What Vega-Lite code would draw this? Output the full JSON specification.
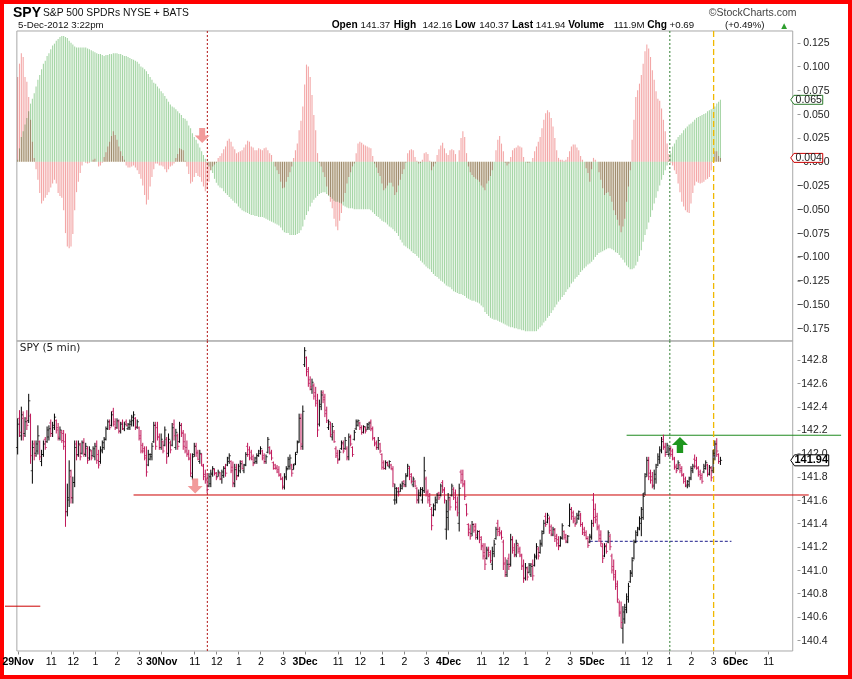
{
"$schema":"https://vega.github.io/schema/vega-lite/v6.json",
"width":852,"height":679,"padding":0,"autosize":{"type":"none"},"background":"white",
"config":{"view":{"stroke":"#ff0000","strokeWidth":8},"font":"Liberation Sans","axis":{"labelFont":"Liberation Sans","titleFont":"Liberation Sans","grid":false,"domain":false}},
"datasets":{"bars":[
{"i":0,"o":142.05,"h":142.3,"l":141.99,"c":142.25,"g":0.002,"p":0.089},
{"i":1,"o":142.3,"h":142.37,"l":142.14,"c":142.18,"g":0.014,"p":0.103},
{"i":2,"o":142.15,"h":142.4,"l":142.11,"c":142.33,"g":0.026,"p":0.114},
{"i":3,"o":142.3,"h":142.36,"l":142.11,"c":142.15,"g":0.032,"p":0.11},
{"i":4,"o":142.17,"h":142.31,"l":142.14,"c":142.27,"g":0.039,"p":0.089},
{"i":5,"o":142.3,"h":142.37,"l":142.2,"c":142.24,"g":0.046,"p":0.084},
{"i":6,"o":142.28,"h":142.51,"l":142.26,"c":142.45,"g":0.053,"p":0.068},
{"i":7,"o":142.32,"h":142.34,"l":141.91,"c":141.98,"g":0.061,"p":0.044},
{"i":8,"o":141.85,"h":142.11,"l":141.74,"c":142.05,"g":0.066,"p":0.021},
{"i":9,"o":142.08,"h":142.11,"l":141.94,"c":141.98,"g":0.072,"p":0.004},
{"i":10,"o":142.0,"h":142.11,"l":141.97,"c":142.08,"g":0.079,"p":-0.008},
{"i":11,"o":142.02,"h":142.24,"l":141.99,"c":142.15,"g":0.086,"p":-0.019},
{"i":12,"o":142.1,"h":142.11,"l":141.94,"c":141.97,"g":0.091,"p":-0.033},
{"i":13,"o":141.93,"h":142.03,"l":141.89,"c":141.99,"g":0.097,"p":-0.044},
{"i":14,"o":141.99,"h":142.11,"l":141.97,"c":142.08,"g":0.103,"p":-0.041},
{"i":15,"o":142.12,"h":142.14,"l":142.03,"c":142.05,"g":0.106,"p":-0.038},
{"i":16,"o":142.1,"h":142.23,"l":142.09,"c":142.2,"g":0.111,"p":-0.035},
{"i":17,"o":142.14,"h":142.24,"l":142.11,"c":142.21,"g":0.114,"p":-0.032},
{"i":18,"o":142.26,"h":142.29,"l":142.14,"c":142.17,"g":0.118,"p":-0.027},
{"i":19,"o":142.17,"h":142.27,"l":142.14,"c":142.24,"g":0.122,"p":-0.023},
{"i":20,"o":142.22,"h":142.34,"l":142.2,"c":142.31,"g":0.124,"p":-0.019},
{"i":21,"o":142.28,"h":142.29,"l":142.17,"c":142.2,"g":0.127,"p":-0.023},
{"i":22,"o":142.22,"h":142.26,"l":142.11,"c":142.14,"g":0.129,"p":-0.033},
{"i":23,"o":142.13,"h":142.23,"l":142.11,"c":142.2,"g":0.131,"p":-0.036},
{"i":24,"o":142.18,"h":142.2,"l":142.09,"c":142.11,"g":0.132,"p":-0.038},
{"i":25,"o":142.17,"h":142.2,"l":142.03,"c":142.06,"g":0.132,"p":-0.051},
{"i":26,"o":142.1,"h":142.17,"l":141.37,"c":141.5,"g":0.131,"p":-0.075},
{"i":27,"o":141.5,"h":141.74,"l":141.46,"c":141.62,"g":0.13,"p":-0.089},
{"i":28,"o":141.6,"h":141.94,"l":141.54,"c":141.85,"g":0.127,"p":-0.091},
{"i":29,"o":141.8,"h":141.86,"l":141.57,"c":141.62,"g":0.125,"p":-0.089},
{"i":30,"o":141.62,"h":141.8,"l":141.57,"c":141.75,"g":0.123,"p":-0.076},
{"i":31,"o":141.75,"h":142.11,"l":141.71,"c":142.05,"g":0.121,"p":-0.051},
{"i":32,"o":142.08,"h":142.11,"l":141.94,"c":141.98,"g":0.12,"p":-0.032},
{"i":33,"o":141.99,"h":142.11,"l":141.97,"c":142.08,"g":0.12,"p":-0.021},
{"i":34,"o":142.07,"h":142.09,"l":141.94,"c":141.97,"g":0.12,"p":-0.012},
{"i":35,"o":142.0,"h":142.11,"l":141.99,"c":142.09,"g":0.12,"p":-0.004},
{"i":36,"o":142.1,"h":142.13,"l":141.97,"c":142.0,"g":0.12,"p":0.0},
{"i":37,"o":141.99,"h":142.09,"l":141.97,"c":142.06,"g":0.12,"p":-0.001},
{"i":38,"o":142.04,"h":142.06,"l":141.91,"c":141.94,"g":0.119,"p":-0.002},
{"i":39,"o":141.96,"h":142.06,"l":141.94,"c":142.03,"g":0.118,"p":-0.001},
{"i":40,"o":142.02,"h":142.03,"l":141.94,"c":141.96,"g":0.117,"p":0.0},
{"i":41,"o":141.98,"h":142.06,"l":141.97,"c":142.04,"g":0.116,"p":0.002},
{"i":42,"o":141.97,"h":142.09,"l":141.94,"c":142.06,"g":0.115,"p":0.003},
{"i":43,"o":142.08,"h":142.11,"l":141.91,"c":141.94,"g":0.114,"p":0.0},
{"i":44,"o":141.99,"h":142.03,"l":141.87,"c":141.9,"g":0.113,"p":-0.005},
{"i":45,"o":141.93,"h":142.06,"l":141.91,"c":142.03,"g":0.113,"p":-0.004},
{"i":46,"o":142.02,"h":142.11,"l":142.0,"c":142.09,"g":0.112,"p":-0.001},
{"i":47,"o":142.05,"h":142.14,"l":142.03,"c":142.12,"g":0.111,"p":0.005},
{"i":48,"o":142.12,"h":142.23,"l":142.11,"c":142.21,"g":0.112,"p":0.01},
{"i":49,"o":142.21,"h":142.29,"l":142.2,"c":142.27,"g":0.112,"p":0.016},
{"i":50,"o":142.27,"h":142.29,"l":142.2,"c":142.22,"g":0.113,"p":0.021},
{"i":51,"o":142.24,"h":142.36,"l":142.23,"c":142.33,"g":0.113,"p":0.027},
{"i":52,"o":142.36,"h":142.39,"l":142.23,"c":142.25,"g":0.114,"p":0.032},
{"i":53,"o":142.27,"h":142.3,"l":142.2,"c":142.22,"g":0.114,"p":0.028},
{"i":54,"o":142.22,"h":142.3,"l":142.21,"c":142.28,"g":0.114,"p":0.023},
{"i":55,"o":142.27,"h":142.29,"l":142.17,"c":142.19,"g":0.113,"p":0.016},
{"i":56,"o":142.19,"h":142.27,"l":142.17,"c":142.25,"g":0.113,"p":0.011},
{"i":57,"o":142.26,"h":142.29,"l":142.2,"c":142.21,"g":0.112,"p":0.006},
{"i":58,"o":142.21,"h":142.27,"l":142.19,"c":142.25,"g":0.111,"p":0.002},
{"i":59,"o":142.27,"h":142.29,"l":142.23,"c":142.24,"g":0.111,"p":-0.004},
{"i":60,"o":142.21,"h":142.26,"l":142.2,"c":142.25,"g":0.11,"p":-0.006},
{"i":61,"o":142.22,"h":142.29,"l":142.2,"c":142.27,"g":0.109,"p":-0.006},
{"i":62,"o":142.25,"h":142.33,"l":142.23,"c":142.31,"g":0.108,"p":-0.005},
{"i":63,"o":142.28,"h":142.36,"l":142.23,"c":142.33,"g":0.107,"p":-0.004},
{"i":64,"o":142.3,"h":142.31,"l":142.2,"c":142.23,"g":0.106,"p":-0.006},
{"i":65,"o":142.22,"h":142.29,"l":142.21,"c":142.27,"g":0.105,"p":-0.009},
{"i":66,"o":142.22,"h":142.23,"l":142.11,"c":142.13,"g":0.103,"p":-0.013},
{"i":67,"o":142.15,"h":142.2,"l":142.0,"c":142.02,"g":0.1,"p":-0.018},
{"i":68,"o":142.07,"h":142.09,"l":142.0,"c":142.02,"g":0.099,"p":-0.025},
{"i":69,"o":142.04,"h":142.06,"l":141.94,"c":141.96,"g":0.097,"p":-0.035},
{"i":70,"o":141.98,"h":142.06,"l":141.8,"c":141.84,"g":0.095,"p":-0.045},
{"i":71,"o":141.9,"h":142.03,"l":141.89,"c":141.99,"g":0.092,"p":-0.04},
{"i":72,"o":141.95,"h":142.0,"l":141.94,"c":141.99,"g":0.089,"p":-0.026},
{"i":73,"o":141.97,"h":142.09,"l":141.94,"c":142.06,"g":0.086,"p":-0.016},
{"i":74,"o":142.1,"h":142.27,"l":142.09,"c":142.24,"g":0.083,"p":-0.008},
{"i":75,"o":142.24,"h":142.27,"l":142.03,"c":142.06,"g":0.082,"p":-0.002},
{"i":76,"o":142.22,"h":142.27,"l":142.11,"c":142.14,"g":0.079,"p":-0.002},
{"i":77,"o":142.14,"h":142.17,"l":142.03,"c":142.05,"g":0.077,"p":-0.004},
{"i":78,"o":142.05,"h":142.17,"l":142.03,"c":142.12,"g":0.074,"p":-0.004},
{"i":79,"o":142.1,"h":142.11,"l":142.0,"c":142.02,"g":0.072,"p":-0.005},
{"i":80,"o":142.07,"h":142.23,"l":142.06,"c":142.2,"g":0.069,"p":-0.008},
{"i":81,"o":142.12,"h":142.14,"l":141.91,"c":141.97,"g":0.066,"p":-0.011},
{"i":82,"o":142.0,"h":142.17,"l":141.97,"c":142.12,"g":0.063,"p":-0.008},
{"i":83,"o":142.09,"h":142.11,"l":142.0,"c":142.03,"g":0.06,"p":-0.005},
{"i":84,"o":142.07,"h":142.26,"l":142.06,"c":142.22,"g":0.058,"p":-0.004},
{"i":85,"o":142.25,"h":142.29,"l":142.11,"c":142.15,"g":0.057,"p":-0.002},
{"i":86,"o":142.05,"h":142.21,"l":142.03,"c":142.18,"g":0.055,"p":0.004},
{"i":87,"o":142.15,"h":142.17,"l":142.03,"c":142.06,"g":0.053,"p":0.008},
{"i":88,"o":142.1,"h":142.27,"l":142.09,"c":142.24,"g":0.051,"p":0.014},
{"i":89,"o":142.24,"h":142.26,"l":142.14,"c":142.17,"g":0.049,"p":0.013},
{"i":90,"o":142.18,"h":142.2,"l":142.03,"c":142.06,"g":0.046,"p":0.012},
{"i":91,"o":142.1,"h":142.17,"l":142.0,"c":142.02,"g":0.045,"p":0.001},
{"i":92,"o":142.05,"h":142.11,"l":141.97,"c":141.99,"g":0.043,"p":-0.005},
{"i":93,"o":142.0,"h":142.03,"l":141.94,"c":141.95,"g":0.038,"p":-0.013},
{"i":94,"o":141.96,"h":142.0,"l":141.8,"c":141.83,"g":0.035,"p":-0.023},
{"i":95,"o":141.8,"h":142.0,"l":141.77,"c":141.97,"g":0.03,"p":-0.021},
{"i":96,"o":141.99,"h":142.09,"l":141.97,"c":142.06,"g":0.026,"p":-0.016},
{"i":97,"o":142.06,"h":142.09,"l":141.97,"c":142.0,"g":0.023,"p":-0.012},
{"i":98,"o":142.01,"h":142.03,"l":141.94,"c":141.95,"g":0.019,"p":-0.015},
{"i":99,"o":141.93,"h":142.03,"l":141.91,"c":142.0,"g":0.015,"p":-0.016},
{"i":100,"o":141.99,"h":142.0,"l":141.89,"c":141.9,"g":0.011,"p":-0.021},
{"i":101,"o":141.89,"h":141.91,"l":141.77,"c":141.8,"g":0.007,"p":-0.026},
{"i":102,"o":141.82,"h":141.86,"l":141.74,"c":141.77,"g":0.003,"p":-0.031},
{"i":103,"o":141.78,"h":141.83,"l":141.66,"c":141.69,"g":-0.001,"p":-0.029},
{"i":104,"o":141.72,"h":141.83,"l":141.71,"c":141.8,"g":-0.005,"p":-0.021},
{"i":105,"o":141.74,"h":141.86,"l":141.71,"c":141.83,"g":-0.009,"p":-0.009},
{"i":106,"o":141.82,"h":141.89,"l":141.8,"c":141.87,"g":-0.012,"p":-0.005},
{"i":107,"o":141.86,"h":141.87,"l":141.81,"c":141.83,"g":-0.018,"p":-0.003},
{"i":108,"o":141.83,"h":141.84,"l":141.77,"c":141.79,"g":-0.022,"p":-0.001},
{"i":109,"o":141.8,"h":141.86,"l":141.8,"c":141.84,"g":-0.025,"p":0.004},
{"i":110,"o":141.83,"h":141.84,"l":141.77,"c":141.78,"g":-0.027,"p":0.006},
{"i":111,"o":141.78,"h":141.86,"l":141.74,"c":141.84,"g":-0.028,"p":0.009},
{"i":112,"o":141.81,"h":141.89,"l":141.79,"c":141.87,"g":-0.031,"p":0.013},
{"i":113,"o":141.88,"h":141.91,"l":141.8,"c":141.83,"g":-0.033,"p":0.016},
{"i":114,"o":141.9,"h":141.97,"l":141.89,"c":141.96,"g":-0.035,"p":0.022},
{"i":115,"o":141.93,"h":142.0,"l":141.91,"c":141.98,"g":-0.037,"p":0.024},
{"i":116,"o":141.93,"h":141.94,"l":141.83,"c":141.85,"g":-0.039,"p":0.021},
{"i":117,"o":141.88,"h":141.93,"l":141.71,"c":141.75,"g":-0.041,"p":0.016},
{"i":118,"o":141.74,"h":141.91,"l":141.71,"c":141.86,"g":-0.043,"p":0.013},
{"i":119,"o":141.88,"h":141.91,"l":141.77,"c":141.8,"g":-0.044,"p":0.009},
{"i":120,"o":141.81,"h":141.91,"l":141.8,"c":141.89,"g":-0.047,"p":0.01},
{"i":121,"o":141.85,"h":141.94,"l":141.83,"c":141.91,"g":-0.049,"p":0.011},
{"i":122,"o":141.93,"h":141.94,"l":141.86,"c":141.87,"g":-0.051,"p":0.012},
{"i":123,"o":141.85,"h":141.91,"l":141.83,"c":141.9,"g":-0.052,"p":0.015},
{"i":124,"o":141.9,"h":142.01,"l":141.89,"c":141.99,"g":-0.053,"p":0.018},
{"i":125,"o":142.06,"h":142.09,"l":141.97,"c":141.99,"g":-0.054,"p":0.022},
{"i":126,"o":142.03,"h":142.06,"l":141.94,"c":141.96,"g":-0.055,"p":0.021},
{"i":127,"o":142.01,"h":142.03,"l":141.94,"c":141.95,"g":-0.056,"p":0.016},
{"i":128,"o":141.97,"h":141.99,"l":141.89,"c":141.91,"g":-0.056,"p":0.015},
{"i":129,"o":141.92,"h":141.97,"l":141.91,"c":141.96,"g":-0.057,"p":0.012},
{"i":130,"o":141.93,"h":142.0,"l":141.91,"c":141.98,"g":-0.057,"p":0.012},
{"i":131,"o":141.98,"h":142.03,"l":141.97,"c":142.02,"g":-0.058,"p":0.014},
{"i":132,"o":142.0,"h":142.06,"l":141.99,"c":142.04,"g":-0.058,"p":0.013},
{"i":133,"o":142.02,"h":142.03,"l":141.94,"c":141.96,"g":-0.058,"p":0.012},
{"i":134,"o":141.98,"h":142.0,"l":141.91,"c":141.93,"g":-0.059,"p":0.014},
{"i":135,"o":141.93,"h":141.99,"l":141.91,"c":141.97,"g":-0.06,"p":0.015},
{"i":136,"o":142.01,"h":142.14,"l":142.0,"c":142.12,"g":-0.061,"p":0.012},
{"i":137,"o":142.05,"h":142.06,"l":141.99,"c":142.0,"g":-0.062,"p":0.009},
{"i":138,"o":142.01,"h":142.03,"l":141.94,"c":141.96,"g":-0.063,"p":0.007},
{"i":139,"o":141.92,"h":141.93,"l":141.86,"c":141.87,"g":-0.064,"p":0.0},
{"i":140,"o":141.9,"h":141.91,"l":141.86,"c":141.87,"g":-0.065,"p":-0.005},
{"i":141,"o":141.88,"h":141.9,"l":141.83,"c":141.84,"g":-0.066,"p":-0.009},
{"i":142,"o":141.86,"h":141.89,"l":141.8,"c":141.81,"g":-0.067,"p":-0.013},
{"i":143,"o":141.82,"h":141.83,"l":141.77,"c":141.78,"g":-0.069,"p":-0.021},
{"i":144,"o":141.78,"h":141.8,"l":141.69,"c":141.72,"g":-0.072,"p":-0.028},
{"i":145,"o":141.71,"h":141.83,"l":141.69,"c":141.8,"g":-0.074,"p":-0.027},
{"i":146,"o":141.79,"h":141.89,"l":141.77,"c":141.86,"g":-0.075,"p":-0.021},
{"i":147,"o":141.87,"h":141.97,"l":141.86,"c":141.95,"g":-0.075,"p":-0.016},
{"i":148,"o":141.89,"h":141.99,"l":141.86,"c":141.96,"g":-0.077,"p":-0.011},
{"i":149,"o":141.9,"h":141.91,"l":141.8,"c":141.83,"g":-0.077,"p":-0.005},
{"i":150,"o":141.86,"h":141.91,"l":141.86,"c":141.9,"g":-0.077,"p":0.004},
{"i":151,"o":141.91,"h":142.01,"l":141.9,"c":141.99,"g":-0.077,"p":0.012},
{"i":152,"o":142.01,"h":142.11,"l":142.0,"c":142.09,"g":-0.076,"p":0.019},
{"i":153,"o":142.1,"h":142.34,"l":142.09,"c":142.3,"g":-0.075,"p":0.033},
{"i":154,"o":142.3,"h":142.34,"l":142.03,"c":142.08,"g":-0.072,"p":0.043},
{"i":155,"o":142.06,"h":142.41,"l":142.03,"c":142.36,"g":-0.068,"p":0.058},
{"i":156,"o":142.76,"h":142.91,"l":142.74,"c":142.88,"g":-0.061,"p":0.081},
{"i":157,"o":142.82,"h":142.83,"l":142.66,"c":142.7,"g":-0.056,"p":0.102},
{"i":158,"o":142.72,"h":142.74,"l":142.57,"c":142.6,"g":-0.052,"p":0.1},
{"i":159,"o":142.63,"h":142.66,"l":142.54,"c":142.57,"g":-0.047,"p":0.089},
{"i":160,"o":142.55,"h":142.64,"l":142.51,"c":142.61,"g":-0.043,"p":0.07},
{"i":161,"o":142.58,"h":142.6,"l":142.46,"c":142.49,"g":-0.04,"p":0.049},
{"i":162,"o":142.52,"h":142.57,"l":142.4,"c":142.43,"g":-0.038,"p":0.033},
{"i":163,"o":142.45,"h":142.51,"l":142.14,"c":142.2,"g":-0.036,"p":0.009},
{"i":164,"o":142.25,"h":142.46,"l":142.23,"c":142.42,"g":-0.034,"p":-0.001},
{"i":165,"o":142.4,"h":142.54,"l":142.37,"c":142.5,"g":-0.033,"p":-0.005},
{"i":166,"o":142.52,"h":142.54,"l":142.43,"c":142.46,"g":-0.032,"p":-0.011},
{"i":167,"o":142.48,"h":142.51,"l":142.31,"c":142.34,"g":-0.032,"p":-0.016},
{"i":168,"o":142.37,"h":142.4,"l":142.26,"c":142.28,"g":-0.034,"p":-0.026},
{"i":169,"o":142.22,"h":142.29,"l":142.2,"c":142.27,"g":-0.036,"p":-0.035},
{"i":170,"o":142.25,"h":142.27,"l":142.14,"c":142.16,"g":-0.037,"p":-0.042},
{"i":171,"o":142.14,"h":142.26,"l":142.11,"c":142.23,"g":-0.039,"p":-0.049},
{"i":172,"o":142.18,"h":142.2,"l":142.09,"c":142.1,"g":-0.041,"p":-0.06},
{"i":173,"o":142.04,"h":142.06,"l":141.96,"c":141.98,"g":-0.042,"p":-0.068},
{"i":174,"o":142.0,"h":142.03,"l":141.91,"c":141.94,"g":-0.042,"p":-0.072},
{"i":175,"o":141.95,"h":142.03,"l":141.94,"c":142.01,"g":-0.043,"p":-0.062},
{"i":176,"o":142.04,"h":142.11,"l":142.03,"c":142.09,"g":-0.044,"p":-0.054},
{"i":177,"o":142.08,"h":142.11,"l":142.0,"c":142.02,"g":-0.046,"p":-0.042},
{"i":178,"o":142.04,"h":142.14,"l":142.03,"c":142.11,"g":-0.047,"p":-0.033},
{"i":179,"o":142.04,"h":142.06,"l":141.94,"c":141.96,"g":-0.048,"p":-0.023},
{"i":180,"o":141.97,"h":142.17,"l":141.94,"c":142.14,"g":-0.049,"p":-0.016},
{"i":181,"o":142.14,"h":142.16,"l":142.06,"c":142.08,"g":-0.049,"p":-0.011},
{"i":182,"o":142.05,"h":142.06,"l":141.97,"c":141.99,"g":-0.049,"p":-0.005},
{"i":183,"o":142.12,"h":142.2,"l":142.11,"c":142.18,"g":-0.05,"p":-0.002},
{"i":184,"o":142.21,"h":142.29,"l":142.2,"c":142.27,"g":-0.05,"p":0.009},
{"i":185,"o":142.24,"h":142.29,"l":142.23,"c":142.28,"g":-0.05,"p":0.019},
{"i":186,"o":142.26,"h":142.27,"l":142.2,"c":142.22,"g":-0.05,"p":0.021},
{"i":187,"o":142.22,"h":142.24,"l":142.16,"c":142.18,"g":-0.05,"p":0.02},
{"i":188,"o":142.18,"h":142.24,"l":142.17,"c":142.23,"g":-0.05,"p":0.018},
{"i":189,"o":142.22,"h":142.23,"l":142.17,"c":142.19,"g":-0.05,"p":0.017},
{"i":190,"o":142.2,"h":142.26,"l":142.2,"c":142.25,"g":-0.05,"p":0.016},
{"i":191,"o":142.22,"h":142.27,"l":142.2,"c":142.26,"g":-0.05,"p":0.015},
{"i":192,"o":142.27,"h":142.29,"l":142.19,"c":142.21,"g":-0.051,"p":0.014},
{"i":193,"o":142.21,"h":142.23,"l":142.11,"c":142.13,"g":-0.053,"p":0.006},
{"i":194,"o":142.13,"h":142.14,"l":142.06,"c":142.08,"g":-0.055,"p":-0.002},
{"i":195,"o":142.09,"h":142.11,"l":142.03,"c":142.05,"g":-0.057,"p":-0.006},
{"i":196,"o":142.05,"h":142.14,"l":142.03,"c":142.11,"g":-0.058,"p":-0.012},
{"i":197,"o":142.08,"h":142.09,"l":142.0,"c":142.02,"g":-0.06,"p":-0.015},
{"i":198,"o":141.99,"h":142.0,"l":141.86,"c":141.88,"g":-0.062,"p":-0.023},
{"i":199,"o":141.92,"h":141.94,"l":141.86,"c":141.87,"g":-0.063,"p":-0.03},
{"i":200,"o":141.87,"h":141.94,"l":141.86,"c":141.92,"g":-0.064,"p":-0.028},
{"i":201,"o":141.92,"h":141.93,"l":141.89,"c":141.9,"g":-0.066,"p":-0.025},
{"i":202,"o":141.89,"h":141.94,"l":141.87,"c":141.93,"g":-0.068,"p":-0.022},
{"i":203,"o":141.9,"h":141.91,"l":141.86,"c":141.87,"g":-0.069,"p":-0.022},
{"i":204,"o":141.86,"h":141.89,"l":141.71,"c":141.74,"g":-0.071,"p":-0.026},
{"i":205,"o":141.6,"h":141.74,"l":141.56,"c":141.7,"g":-0.073,"p":-0.035},
{"i":206,"o":141.6,"h":141.71,"l":141.57,"c":141.67,"g":-0.075,"p":-0.032},
{"i":207,"o":141.7,"h":141.71,"l":141.63,"c":141.65,"g":-0.078,"p":-0.025},
{"i":208,"o":141.67,"h":141.74,"l":141.67,"c":141.72,"g":-0.082,"p":-0.019},
{"i":209,"o":141.7,"h":141.76,"l":141.69,"c":141.74,"g":-0.085,"p":-0.013},
{"i":210,"o":141.76,"h":141.77,"l":141.71,"c":141.72,"g":-0.088,"p":-0.008},
{"i":211,"o":141.73,"h":141.83,"l":141.71,"c":141.8,"g":-0.089,"p":-0.001},
{"i":212,"o":141.81,"h":141.91,"l":141.8,"c":141.89,"g":-0.091,"p":0.009},
{"i":213,"o":141.87,"h":141.89,"l":141.77,"c":141.8,"g":-0.092,"p":0.012},
{"i":214,"o":141.82,"h":141.83,"l":141.74,"c":141.76,"g":-0.094,"p":0.013},
{"i":215,"o":141.73,"h":141.8,"l":141.71,"c":141.78,"g":-0.096,"p":0.012},
{"i":216,"o":141.76,"h":141.77,"l":141.71,"c":141.72,"g":-0.097,"p":0.005},
{"i":217,"o":141.7,"h":141.71,"l":141.57,"c":141.6,"g":-0.099,"p":0.001},
{"i":218,"o":141.6,"h":141.69,"l":141.57,"c":141.66,"g":-0.101,"p":-0.002},
{"i":219,"o":141.64,"h":141.71,"l":141.63,"c":141.69,"g":-0.104,"p":-0.001},
{"i":220,"o":141.6,"h":141.71,"l":141.57,"c":141.68,"g":-0.106,"p":0.002},
{"i":221,"o":141.68,"h":141.97,"l":141.66,"c":141.85,"g":-0.108,"p":0.009},
{"i":222,"o":141.78,"h":141.8,"l":141.63,"c":141.66,"g":-0.11,"p":0.01},
{"i":223,"o":141.67,"h":141.69,"l":141.57,"c":141.6,"g":-0.112,"p":0.008},
{"i":224,"o":141.63,"h":141.66,"l":141.54,"c":141.56,"g":-0.113,"p":0.001},
{"i":225,"o":141.52,"h":141.54,"l":141.34,"c":141.38,"g":-0.116,"p":-0.009},
{"i":226,"o":141.47,"h":141.57,"l":141.46,"c":141.55,"g":-0.118,"p":-0.005},
{"i":227,"o":141.52,"h":141.63,"l":141.51,"c":141.6,"g":-0.12,"p":-0.002},
{"i":228,"o":141.58,"h":141.66,"l":141.57,"c":141.64,"g":-0.121,"p":0.007},
{"i":229,"o":141.66,"h":141.67,"l":141.6,"c":141.62,"g":-0.123,"p":0.013},
{"i":230,"o":141.64,"h":141.74,"l":141.63,"c":141.72,"g":-0.125,"p":0.017},
{"i":231,"o":141.75,"h":141.77,"l":141.66,"c":141.68,"g":-0.126,"p":0.02},
{"i":232,"o":141.69,"h":141.71,"l":141.57,"c":141.6,"g":-0.128,"p":0.014},
{"i":233,"o":141.35,"h":141.6,"l":141.26,"c":141.5,"g":-0.13,"p":0.009},
{"i":234,"o":141.45,"h":141.66,"l":141.34,"c":141.62,"g":-0.131,"p":0.007},
{"i":235,"o":141.6,"h":141.63,"l":141.51,"c":141.54,"g":-0.132,"p":0.012},
{"i":236,"o":141.64,"h":141.74,"l":141.63,"c":141.72,"g":-0.134,"p":0.013},
{"i":237,"o":141.69,"h":141.71,"l":141.6,"c":141.62,"g":-0.136,"p":0.012},
{"i":238,"o":141.66,"h":141.69,"l":141.51,"c":141.54,"g":-0.137,"p":0.008},
{"i":239,"o":141.58,"h":141.63,"l":141.46,"c":141.49,"g":-0.138,"p":0.0},
{"i":240,"o":141.4,"h":141.74,"l":141.33,"c":141.7,"g":-0.139,"p":0.012},
{"i":241,"o":141.84,"h":141.86,"l":141.74,"c":141.77,"g":-0.139,"p":0.025},
{"i":242,"o":141.82,"h":141.86,"l":141.71,"c":141.73,"g":-0.14,"p":0.032},
{"i":243,"o":141.74,"h":141.77,"l":141.6,"c":141.63,"g":-0.141,"p":0.026},
{"i":244,"o":141.56,"h":141.57,"l":141.46,"c":141.48,"g":-0.143,"p":0.009},
{"i":245,"o":141.39,"h":141.4,"l":141.29,"c":141.32,"g":-0.144,"p":-0.005},
{"i":246,"o":141.35,"h":141.39,"l":141.26,"c":141.29,"g":-0.145,"p":-0.011},
{"i":247,"o":141.31,"h":141.42,"l":141.29,"c":141.39,"g":-0.146,"p":-0.014},
{"i":248,"o":141.39,"h":141.4,"l":141.32,"c":141.34,"g":-0.146,"p":-0.016},
{"i":249,"o":141.37,"h":141.4,"l":141.26,"c":141.3,"g":-0.147,"p":-0.018},
{"i":250,"o":141.28,"h":141.34,"l":141.26,"c":141.33,"g":-0.148,"p":-0.019},
{"i":251,"o":141.33,"h":141.34,"l":141.23,"c":141.26,"g":-0.149,"p":-0.021},
{"i":252,"o":141.28,"h":141.29,"l":141.17,"c":141.2,"g":-0.151,"p":-0.025},
{"i":253,"o":141.21,"h":141.23,"l":141.09,"c":141.12,"g":-0.153,"p":-0.027},
{"i":254,"o":141.15,"h":141.23,"l":141.0,"c":141.05,"g":-0.158,"p":-0.03},
{"i":255,"o":141.1,"h":141.2,"l":141.09,"c":141.17,"g":-0.16,"p":-0.023},
{"i":256,"o":141.18,"h":141.2,"l":141.11,"c":141.13,"g":-0.162,"p":-0.02},
{"i":257,"o":141.15,"h":141.17,"l":141.06,"c":141.08,"g":-0.164,"p":-0.015},
{"i":258,"o":141.05,"h":141.2,"l":141.0,"c":141.16,"g":-0.165,"p":-0.009},
{"i":259,"o":141.14,"h":141.26,"l":141.11,"c":141.22,"g":-0.166,"p":0.0},
{"i":260,"o":141.27,"h":141.37,"l":141.26,"c":141.35,"g":-0.166,"p":0.012},
{"i":261,"o":141.4,"h":141.43,"l":141.29,"c":141.33,"g":-0.167,"p":0.023},
{"i":262,"o":141.35,"h":141.37,"l":141.29,"c":141.31,"g":-0.168,"p":0.027},
{"i":263,"o":141.32,"h":141.34,"l":141.26,"c":141.28,"g":-0.169,"p":0.019},
{"i":264,"o":141.24,"h":141.26,"l":141.0,"c":141.05,"g":-0.17,"p":0.011},
{"i":265,"o":141.06,"h":141.11,"l":140.94,"c":140.98,"g":-0.171,"p":-0.001},
{"i":266,"o":140.96,"h":141.09,"l":140.94,"c":141.05,"g":-0.172,"p":-0.004},
{"i":267,"o":141.1,"h":141.14,"l":141.0,"c":141.03,"g":-0.173,"p":-0.002},
{"i":268,"o":141.05,"h":141.31,"l":141.03,"c":141.26,"g":-0.174,"p":0.005},
{"i":269,"o":141.26,"h":141.29,"l":141.14,"c":141.17,"g":-0.174,"p":0.012},
{"i":270,"o":141.19,"h":141.23,"l":141.11,"c":141.13,"g":-0.175,"p":0.014},
{"i":271,"o":141.13,"h":141.26,"l":141.11,"c":141.23,"g":-0.175,"p":0.015},
{"i":272,"o":141.21,"h":141.23,"l":141.14,"c":141.16,"g":-0.176,"p":0.017},
{"i":273,"o":141.18,"h":141.2,"l":141.11,"c":141.13,"g":-0.176,"p":0.016},
{"i":274,"o":141.12,"h":141.14,"l":141.0,"c":141.03,"g":-0.177,"p":0.015},
{"i":275,"o":141.04,"h":141.09,"l":140.89,"c":140.93,"g":-0.177,"p":0.005},
{"i":276,"o":140.93,"h":141.06,"l":140.91,"c":141.02,"g":-0.178,"p":0.0},
{"i":277,"o":141.01,"h":141.03,"l":140.91,"c":140.94,"g":-0.178,"p":-0.001},
{"i":278,"o":140.98,"h":141.06,"l":140.97,"c":141.04,"g":-0.178,"p":-0.001},
{"i":279,"o":140.96,"h":141.06,"l":140.94,"c":141.03,"g":-0.178,"p":0.0},
{"i":280,"o":141.05,"h":141.09,"l":140.91,"c":140.95,"g":-0.178,"p":0.004},
{"i":281,"o":141.04,"h":141.14,"l":141.03,"c":141.12,"g":-0.178,"p":0.011},
{"i":282,"o":141.11,"h":141.23,"l":141.09,"c":141.2,"g":-0.178,"p":0.016},
{"i":283,"o":141.18,"h":141.2,"l":141.09,"c":141.12,"g":-0.176,"p":0.021},
{"i":284,"o":141.15,"h":141.26,"l":141.14,"c":141.23,"g":-0.174,"p":0.026},
{"i":285,"o":141.22,"h":141.34,"l":141.2,"c":141.31,"g":-0.172,"p":0.035},
{"i":286,"o":141.33,"h":141.43,"l":141.31,"c":141.4,"g":-0.169,"p":0.044},
{"i":287,"o":141.46,"h":141.49,"l":141.37,"c":141.39,"g":-0.167,"p":0.051},
{"i":288,"o":141.41,"h":141.49,"l":141.4,"c":141.47,"g":-0.164,"p":0.054},
{"i":289,"o":141.44,"h":141.46,"l":141.31,"c":141.34,"g":-0.162,"p":0.052},
{"i":290,"o":141.37,"h":141.39,"l":141.29,"c":141.31,"g":-0.159,"p":0.046},
{"i":291,"o":141.3,"h":141.37,"l":141.29,"c":141.35,"g":-0.156,"p":0.037},
{"i":292,"o":141.34,"h":141.36,"l":141.24,"c":141.27,"g":-0.153,"p":0.025},
{"i":293,"o":141.29,"h":141.31,"l":141.2,"c":141.23,"g":-0.15,"p":0.012},
{"i":294,"o":141.26,"h":141.29,"l":141.17,"c":141.2,"g":-0.147,"p":0.004},
{"i":295,"o":141.21,"h":141.29,"l":141.2,"c":141.27,"g":-0.145,"p":0.002},
{"i":296,"o":141.28,"h":141.4,"l":141.26,"c":141.38,"g":-0.142,"p":0.002},
{"i":297,"o":141.33,"h":141.34,"l":141.26,"c":141.28,"g":-0.14,"p":0.001},
{"i":298,"o":141.3,"h":141.31,"l":141.23,"c":141.25,"g":-0.137,"p":0.002},
{"i":299,"o":141.24,"h":141.3,"l":141.23,"c":141.29,"g":-0.134,"p":0.005},
{"i":300,"o":141.38,"h":141.57,"l":141.37,"c":141.52,"g":-0.132,"p":0.011},
{"i":301,"o":141.52,"h":141.54,"l":141.43,"c":141.46,"g":-0.128,"p":0.016},
{"i":302,"o":141.49,"h":141.51,"l":141.4,"c":141.42,"g":-0.126,"p":0.018},
{"i":303,"o":141.44,"h":141.46,"l":141.37,"c":141.39,"g":-0.123,"p":0.018},
{"i":304,"o":141.4,"h":141.49,"l":141.4,"c":141.47,"g":-0.121,"p":0.015},
{"i":305,"o":141.44,"h":141.51,"l":141.43,"c":141.5,"g":-0.119,"p":0.012},
{"i":306,"o":141.47,"h":141.49,"l":141.37,"c":141.39,"g":-0.116,"p":0.006},
{"i":307,"o":141.39,"h":141.41,"l":141.3,"c":141.32,"g":-0.114,"p":0.002},
{"i":308,"o":141.35,"h":141.37,"l":141.29,"c":141.3,"g":-0.112,"p":0.0},
{"i":309,"o":141.32,"h":141.34,"l":141.26,"c":141.27,"g":-0.11,"p":-0.007},
{"i":310,"o":141.27,"h":141.29,"l":141.19,"c":141.21,"g":-0.108,"p":-0.012},
{"i":311,"o":141.24,"h":141.31,"l":141.23,"c":141.29,"g":-0.107,"p":-0.021},
{"i":312,"o":141.28,"h":141.43,"l":141.26,"c":141.4,"g":-0.105,"p":-0.008},
{"i":313,"o":141.6,"h":141.66,"l":141.37,"c":141.45,"g":-0.103,"p":0.004},
{"i":314,"o":141.52,"h":141.57,"l":141.4,"c":141.43,"g":-0.1,"p":0.002},
{"i":315,"o":141.46,"h":141.49,"l":141.34,"c":141.37,"g":-0.098,"p":0.0},
{"i":316,"o":141.36,"h":141.39,"l":141.24,"c":141.27,"g":-0.096,"p":-0.011},
{"i":317,"o":141.3,"h":141.34,"l":141.2,"c":141.23,"g":-0.095,"p":-0.019},
{"i":318,"o":141.2,"h":141.23,"l":141.06,"c":141.1,"g":-0.094,"p":-0.028},
{"i":319,"o":141.12,"h":141.23,"l":141.11,"c":141.2,"g":-0.093,"p":-0.035},
{"i":320,"o":141.21,"h":141.23,"l":141.14,"c":141.16,"g":-0.092,"p":-0.033},
{"i":321,"o":141.24,"h":141.34,"l":141.23,"c":141.32,"g":-0.091,"p":-0.032},
{"i":322,"o":141.29,"h":141.31,"l":141.17,"c":141.2,"g":-0.091,"p":-0.036},
{"i":323,"o":141.12,"h":141.14,"l":140.97,"c":141.0,"g":-0.092,"p":-0.042},
{"i":324,"o":141.03,"h":141.09,"l":140.91,"c":140.94,"g":-0.093,"p":-0.051},
{"i":325,"o":140.96,"h":141.0,"l":140.83,"c":140.86,"g":-0.095,"p":-0.056},
{"i":326,"o":140.88,"h":140.91,"l":140.72,"c":140.75,"g":-0.096,"p":-0.061},
{"i":327,"o":140.72,"h":140.74,"l":140.6,"c":140.63,"g":-0.098,"p":-0.067},
{"i":328,"o":140.64,"h":140.73,"l":140.5,"c":140.55,"g":-0.101,"p":-0.074},
{"i":329,"o":140.5,"h":140.69,"l":140.37,"c":140.64,"g":-0.103,"p":-0.068},
{"i":330,"o":140.58,"h":140.71,"l":140.54,"c":140.68,"g":-0.106,"p":-0.06},
{"i":331,"o":140.66,"h":140.8,"l":140.63,"c":140.77,"g":-0.109,"p":-0.042},
{"i":332,"o":140.75,"h":140.89,"l":140.72,"c":140.86,"g":-0.111,"p":-0.026},
{"i":333,"o":140.9,"h":141.0,"l":140.89,"c":140.98,"g":-0.113,"p":-0.009},
{"i":334,"o":140.97,"h":141.11,"l":140.94,"c":141.08,"g":-0.113,"p":0.023},
{"i":335,"o":141.1,"h":141.26,"l":141.09,"c":141.24,"g":-0.112,"p":0.044},
{"i":336,"o":141.24,"h":141.34,"l":141.23,"c":141.32,"g":-0.109,"p":0.068},
{"i":337,"o":141.3,"h":141.37,"l":141.29,"c":141.36,"g":-0.105,"p":0.075},
{"i":338,"o":141.35,"h":141.46,"l":141.34,"c":141.44,"g":-0.099,"p":0.082},
{"i":339,"o":141.4,"h":141.54,"l":141.29,"c":141.52,"g":-0.093,"p":0.091},
{"i":340,"o":141.45,"h":141.66,"l":141.43,"c":141.63,"g":-0.084,"p":0.103},
{"i":341,"o":141.66,"h":141.83,"l":141.64,"c":141.8,"g":-0.077,"p":0.116},
{"i":342,"o":141.82,"h":141.97,"l":141.8,"c":141.94,"g":-0.071,"p":0.123},
{"i":343,"o":141.94,"h":141.97,"l":141.77,"c":141.8,"g":-0.064,"p":0.119},
{"i":344,"o":141.83,"h":141.86,"l":141.74,"c":141.77,"g":-0.058,"p":0.11},
{"i":345,"o":141.8,"h":141.84,"l":141.7,"c":141.73,"g":-0.051,"p":0.096},
{"i":346,"o":141.72,"h":141.86,"l":141.69,"c":141.82,"g":-0.044,"p":0.086},
{"i":347,"o":141.78,"h":141.91,"l":141.74,"c":141.88,"g":-0.038,"p":0.074},
{"i":348,"o":141.9,"h":142.0,"l":141.89,"c":141.97,"g":-0.031,"p":0.066},
{"i":349,"o":141.95,"h":142.06,"l":141.91,"c":142.03,"g":-0.025,"p":0.064},
{"i":350,"o":142.02,"h":142.14,"l":142.0,"c":142.1,"g":-0.019,"p":0.056},
{"i":351,"o":142.12,"h":142.16,"l":142.03,"c":142.05,"g":-0.014,"p":0.044},
{"i":352,"o":142.06,"h":142.09,"l":141.97,"c":141.99,"g":-0.009,"p":0.032},
{"i":353,"o":142.01,"h":142.09,"l":142.0,"c":142.07,"g":-0.004,"p":0.019},
{"i":354,"o":141.99,"h":142.06,"l":141.97,"c":142.04,"g":0.001,"p":0.008},
{"i":355,"o":142.04,"h":142.06,"l":141.97,"c":141.99,"g":0.009,"p":-0.001},
{"i":356,"o":142.02,"h":142.04,"l":141.94,"c":141.96,"g":0.016,"p":-0.004},
{"i":357,"o":141.95,"h":141.97,"l":141.86,"c":141.88,"g":0.019,"p":-0.009},
{"i":358,"o":141.89,"h":141.91,"l":141.83,"c":141.85,"g":0.023,"p":-0.013},
{"i":359,"o":141.87,"h":141.94,"l":141.86,"c":141.92,"g":0.026,"p":-0.023},
{"i":360,"o":141.9,"h":141.91,"l":141.83,"c":141.85,"g":0.028,"p":-0.032},
{"i":361,"o":141.87,"h":141.89,"l":141.8,"c":141.82,"g":0.03,"p":-0.042},
{"i":362,"o":141.81,"h":141.83,"l":141.74,"c":141.76,"g":0.033,"p":-0.047},
{"i":363,"o":141.78,"h":141.8,"l":141.71,"c":141.73,"g":0.035,"p":-0.051},
{"i":364,"o":141.72,"h":141.77,"l":141.7,"c":141.76,"g":0.037,"p":-0.053},
{"i":365,"o":141.73,"h":141.8,"l":141.71,"c":141.78,"g":0.039,"p":-0.054},
{"i":366,"o":141.79,"h":141.89,"l":141.77,"c":141.87,"g":0.04,"p":-0.044},
{"i":367,"o":141.85,"h":141.91,"l":141.83,"c":141.89,"g":0.042,"p":-0.033},
{"i":368,"o":141.95,"h":141.99,"l":141.87,"c":141.89,"g":0.044,"p":-0.025},
{"i":369,"o":141.94,"h":141.97,"l":141.86,"c":141.88,"g":0.046,"p":-0.021},
{"i":370,"o":141.87,"h":141.89,"l":141.8,"c":141.82,"g":0.047,"p":-0.022},
{"i":371,"o":141.84,"h":141.86,"l":141.77,"c":141.79,"g":0.048,"p":-0.023},
{"i":372,"o":141.81,"h":141.83,"l":141.74,"c":141.76,"g":0.049,"p":-0.022},
{"i":373,"o":141.84,"h":141.91,"l":141.83,"c":141.89,"g":0.05,"p":-0.021},
{"i":374,"o":141.87,"h":141.94,"l":141.86,"c":141.92,"g":0.051,"p":-0.019},
{"i":375,"o":141.9,"h":141.91,"l":141.8,"c":141.83,"g":0.053,"p":-0.018},
{"i":376,"o":141.82,"h":141.9,"l":141.81,"c":141.88,"g":0.054,"p":-0.016},
{"i":377,"o":141.87,"h":141.89,"l":141.76,"c":141.79,"g":0.055,"p":-0.009},
{"i":378,"o":141.85,"h":142.03,"l":141.83,"c":142.0,"g":0.056,"p":0.001},
{"i":379,"o":141.98,"h":142.11,"l":141.94,"c":142.08,"g":0.058,"p":0.011},
{"i":380,"o":142.08,"h":142.13,"l":141.97,"c":142.02,"g":0.061,"p":0.011},
{"i":381,"o":141.99,"h":142.0,"l":141.91,"c":141.93,"g":0.063,"p":0.006},
{"i":382,"o":141.93,"h":141.97,"l":141.9,"c":141.94,"g":0.065,"p":0.004}
]},
"layer":[
{
"layer":[
{"data":{"values":[{"k":"top"}]},"mark":{"type":"rect","fillOpacity":0,"stroke":"#a8a8a8","strokeWidth":1},
 "encoding":{"x":{"datum":-0.43,"type":"quantitative","scale":{"domain":[-6.88,450.8],"nice":false,"zero":false},"axis":null},"x2":{"datum":421.3},
 "y":{"datum":0.13729,"type":"quantitative","scale":{"domain":[-0.5434,0.16985],"nice":false,"zero":false},"axis":null},"y2":{"datum":-0.18835}}},
{"data":{"name":"bars"},"mark":{"type":"bar","color":"#a6d6a6","width":1.1},
 "encoding":{"x":{"field":"i","type":"quantitative","scale":{"domain":[-6.88,450.8],"nice":false,"zero":false},
   "axis":{"orient":"top","offset":-27.5,"values":[170.4,204.1,237.5,268.5,299,341.9],"labelExpr":"datum.value < 190 ? 'Open' : datum.value < 220 ? 'High' : datum.value < 250 ? 'Low' : datum.value < 280 ? 'Last' : datum.value < 320 ? 'Volume' : 'Chg'","labelFontWeight":"bold","labelFontSize":10.2,"labelColor":"#000000","labelAlign":"left","labelBaseline":"alphabetic","labelPadding":0,"ticks":false,"tickSize":0,"domain":false,"grid":false,"labelOverlap":false,"labelFlush":false,"labelBound":false,
   "title":"SPY","titleX":12.5,"titleY":-11.5,"titleAlign":"left","titleBaseline":"alphabetic","titleAngle":0,"titleFontSize":14,"titleFontWeight":"bold","titleColor":"#000000"}},
  "y":{"field":"g","type":"quantitative","scale":{"domain":[-0.5434,0.16985],"nice":false,"zero":false},
   "axis":{"orient":"right","offset":-55,"values":[-0.175,-0.15,-0.125,-0.1,-0.075,-0.05,-0.025,0,0.025,0.05,0.075,0.1,0.125],"format":".3f","labelAlign":"right","labelBaseline":"middle","labelPadding":29,"tickSize":3,"tickColor":"#999999","labelFontSize":10.5,"labelColor":"#222222","domain":false,"grid":false,"title":null,"labelOverlap":false,"labelFlush":false}},
  "y2":{"datum":0}}},
{"data":{"name":"bars"},"mark":{"type":"bar","color":"#f3a7a7","width":1.1,"blend":"multiply"},
 "encoding":{"x":{"field":"i","type":"quantitative","scale":{"domain":[-6.88,450.8],"nice":false,"zero":false},
   "axis":{"orient":"top","offset":-27.5,"values":[-0.05,186.1,219.8,250.6,281.4,323.7,354.1,384.2],"labelExpr":"datum.value < 100 ? '5-Dec-2012 3:22pm' : datum.value < 200 ? '141.37' : datum.value < 235 ? '142.16' : datum.value < 265 ? '140.37' : datum.value < 300 ? '141.94' : datum.value < 340 ? '111.9M' : datum.value < 370 ? '+0.69' : '(+0.49%)'","labelFontSize":9.7,"labelColor":"#111111","labelAlign":"left","labelBaseline":"alphabetic","labelPadding":0,"ticks":false,"tickSize":0,"domain":false,"grid":false,"labelOverlap":false,"labelFlush":false,"labelBound":false,
   "title":"S&P 500 SPDRs NYSE + BATS","titleX":42.5,"titleY":-12,"titleAlign":"left","titleBaseline":"alphabetic","titleAngle":0,"titleFontSize":10.3,"titleFontWeight":"normal","titleColor":"#111111"}},
  "y":{"field":"p","type":"quantitative","scale":{"domain":[-0.5434,0.16985],"nice":false,"zero":false},"axis":null},
  "y2":{"datum":0}}},
{"data":{"values":[{"i":103.1}]},"mark":{"type":"rule","color":"#b01010","strokeDash":[2,2],"strokeWidth":1},
 "encoding":{"x":{"field":"i","type":"quantitative","scale":{"domain":[-6.88,450.8],"nice":false,"zero":false},
   "axis":{"orient":"top","offset":-27.5,"values":[416.4],"labelExpr":"'▲'","labelFont":"DejaVu Sans","labelFontSize":7.5,"labelColor":"#2e9e2e","labelAlign":"center","labelBaseline":"alphabetic","labelPadding":0,"ticks":false,"tickSize":0,"domain":false,"grid":false,"labelOverlap":false,"labelFlush":false,"labelBound":false,
   "title":"©StockCharts.com","titleX":796,"titleY":-12,"titleAlign":"right","titleBaseline":"alphabetic","titleAngle":0,"titleFontSize":10.5,"titleFontWeight":"normal","titleColor":"#444444"}},
  "y":{"datum":0.13729,"type":"quantitative","scale":{"domain":[-0.5434,0.16985],"nice":false,"zero":false},"axis":null},"y2":{"datum":-0.18835}}},
{"data":{"values":[{"i":354.5}]},"mark":{"type":"rule","color":"#2d7d2d","strokeDash":[2,2],"strokeWidth":1},
 "encoding":{"x":{"field":"i","type":"quantitative","scale":{"domain":[-6.88,450.8],"nice":false,"zero":false},"axis":null},
  "y":{"datum":0.13729,"type":"quantitative","scale":{"domain":[-0.5434,0.16985],"nice":false,"zero":false},"axis":null},"y2":{"datum":-0.18835}}},
{"data":{"values":[{"i":378.3}]},"mark":{"type":"rule","color":"#f0b800","strokeDash":[6,3],"strokeWidth":1.3},
 "encoding":{"x":{"field":"i","type":"quantitative","scale":{"domain":[-6.88,450.8],"nice":false,"zero":false},"axis":null},
  "y":{"datum":0.13729,"type":"quantitative","scale":{"domain":[-0.5434,0.16985],"nice":false,"zero":false},"axis":null},"y2":{"datum":-0.18835}}},
{"data":{"values":[{"i":100.3,"v":0.0275}]},"mark":{"type":"point","shape":"M-0.4,-1L0.4,-1L0.4,0L1,0L0,1L-1,0L-0.4,0Z","size":225,"filled":true,"color":"#f29a9a","opacity":1},
 "encoding":{"x":{"field":"i","type":"quantitative","scale":{"domain":[-6.88,450.8],"nice":false,"zero":false},"axis":null},
  "y":{"field":"v","type":"quantitative","scale":{"domain":[-0.5434,0.16985],"nice":false,"zero":false},"axis":null}}},
{"data":{"values":[{"v":0.065,"label":"0.065"}]},"mark":{"type":"point","shape":"M-1,0L-0.8,-0.28L1,-0.28L1,0.28L-0.8,0.28Z","size":1024,"filled":true,"fill":"#ffffff","stroke":"#2a7a2a","strokeWidth":1,"opacity":1,"xOffset":14},
 "encoding":{"x":{"datum":421.3,"type":"quantitative","scale":{"domain":[-6.88,450.8],"nice":false,"zero":false},"axis":null},
  "y":{"field":"v","type":"quantitative","scale":{"domain":[-0.5434,0.16985],"nice":false,"zero":false},"axis":null}}},
{"data":{"values":[{"v":0.065,"label":"0.065"}]},"mark":{"type":"text","align":"center","baseline":"middle","dx":16,"fontSize":10.5,"color":"#1a1a1a"},
 "encoding":{"x":{"datum":421.3,"type":"quantitative","scale":{"domain":[-6.88,450.8],"nice":false,"zero":false},"axis":null},
  "y":{"field":"v","type":"quantitative","scale":{"domain":[-0.5434,0.16985],"nice":false,"zero":false},"axis":null},"text":{"field":"label"}}},
{"data":{"values":[{"v":0.004,"label":"0.004"}]},"mark":{"type":"point","shape":"M-1,0L-0.8,-0.28L1,-0.28L1,0.28L-0.8,0.28Z","size":1024,"filled":true,"fill":"#ffffff","stroke":"#cc0000","strokeWidth":1,"opacity":1,"xOffset":14},
 "encoding":{"x":{"datum":421.3,"type":"quantitative","scale":{"domain":[-6.88,450.8],"nice":false,"zero":false},"axis":null},
  "y":{"field":"v","type":"quantitative","scale":{"domain":[-0.5434,0.16985],"nice":false,"zero":false},"axis":null}}},
{"data":{"values":[{"v":0.004,"label":"0.004"}]},"mark":{"type":"text","align":"center","baseline":"middle","dx":16,"fontSize":10.5,"color":"#1a1a1a"},
 "encoding":{"x":{"datum":421.3,"type":"quantitative","scale":{"domain":[-6.88,450.8],"nice":false,"zero":false},"axis":null},
  "y":{"field":"v","type":"quantitative","scale":{"domain":[-0.5434,0.16985],"nice":false,"zero":false},"axis":null},"text":{"field":"label"}}}
],
"resolve":{"axis":{"x":"independent","y":"independent"}}
},
{
"layer":[
{"data":{"values":[{"k":"bottom"}]},"mark":{"type":"rect","fillOpacity":0,"stroke":"#a8a8a8","strokeWidth":1},
 "encoding":{"x":{"datum":-0.43,"type":"quantitative","scale":{"domain":[-6.88,450.8],"nice":false,"zero":false},"axis":null},"x2":{"datum":421.3},
 "y":{"datum":142.963,"type":"quantitative","scale":{"domain":[140.066,145.885],"nice":false,"zero":false},"axis":null},"y2":{"datum":140.306}}},
{"data":{"values":[{"t":"SPY (5 min)"}]},"mark":{"type":"text","align":"left","baseline":"top","dx":3,"dy":2,"font":"DejaVu Sans","fontSize":10.5,"color":"#222222"},
 "encoding":{"x":{"datum":-0.43,"type":"quantitative","scale":{"domain":[-6.88,450.8],"nice":false,"zero":false},"axis":null},
  "y":{"datum":142.963,"type":"quantitative","scale":{"domain":[140.066,145.885],"nice":false,"zero":false},"axis":null},"text":{"field":"t"}}},
{"data":{"values":[{"a":63,"b":430,"p":141.643}]},"mark":{"type":"rule","color":"#cc0000","strokeWidth":1},
 "encoding":{"x":{"field":"a","type":"quantitative","scale":{"domain":[-6.88,450.8],"nice":false,"zero":false},"axis":null},"x2":{"field":"b"},
  "y":{"field":"p","type":"quantitative","scale":{"domain":[140.066,145.885],"nice":false,"zero":false},"axis":null}}},
{"data":{"values":[{"a":-6.88,"b":12.3,"p":140.69}]},"mark":{"type":"rule","color":"#cc0000","strokeWidth":1},
 "encoding":{"x":{"field":"a","type":"quantitative","scale":{"domain":[-6.88,450.8],"nice":false,"zero":false},"axis":null},"x2":{"field":"b"},
  "y":{"field":"p","type":"quantitative","scale":{"domain":[140.066,145.885],"nice":false,"zero":false},"axis":null}}},
{"data":{"values":[{"a":331,"b":447.6,"p":142.155}]},"mark":{"type":"rule","color":"#1f8a1f","strokeWidth":1},
 "encoding":{"x":{"field":"a","type":"quantitative","scale":{"domain":[-6.88,450.8],"nice":false,"zero":false},"axis":null},"x2":{"field":"b"},
  "y":{"field":"p","type":"quantitative","scale":{"domain":[140.066,145.885],"nice":false,"zero":false},"axis":null}}},
{"data":{"values":[{"a":311,"b":388,"p":141.246}]},"mark":{"type":"rule","color":"#1c1c8a","strokeWidth":1,"strokeDash":[3,2]},
 "encoding":{"x":{"field":"a","type":"quantitative","scale":{"domain":[-6.88,450.8],"nice":false,"zero":false},"axis":null},"x2":{"field":"b"},
  "y":{"field":"p","type":"quantitative","scale":{"domain":[140.066,145.885],"nice":false,"zero":false},"axis":null}}},
{"data":{"values":[{"i":103.1}]},"mark":{"type":"rule","color":"#b01010","strokeDash":[2,2],"strokeWidth":1},
 "encoding":{"x":{"field":"i","type":"quantitative","scale":{"domain":[-6.88,450.8],"nice":false,"zero":false},"axis":null},
  "y":{"datum":142.963,"type":"quantitative","scale":{"domain":[140.066,145.885],"nice":false,"zero":false},"axis":null},"y2":{"datum":140.306}}},
{"data":{"values":[{"i":354.5}]},"mark":{"type":"rule","color":"#2d7d2d","strokeDash":[2,2],"strokeWidth":1},
 "encoding":{"x":{"field":"i","type":"quantitative","scale":{"domain":[-6.88,450.8],"nice":false,"zero":false},"axis":null},
  "y":{"datum":142.963,"type":"quantitative","scale":{"domain":[140.066,145.885],"nice":false,"zero":false},"axis":null},"y2":{"datum":140.306}}},
{"data":{"values":[{"i":378.3}]},"mark":{"type":"rule","color":"#f0b800","strokeDash":[6,3],"strokeWidth":1.3},
 "encoding":{"x":{"field":"i","type":"quantitative","scale":{"domain":[-6.88,450.8],"nice":false,"zero":false},"axis":null},
  "y":{"datum":142.963,"type":"quantitative","scale":{"domain":[140.066,145.885],"nice":false,"zero":false},"axis":null},"y2":{"datum":140.306}}},
{"data":{"name":"bars"},"mark":{"type":"rule","strokeWidth":1},
 "encoding":{"x":{"field":"i","type":"quantitative","scale":{"domain":[-6.88,450.8],"nice":false,"zero":false},
   "axis":{"orient":"bottom","offset":-28,"values":[0,18,30,42,54,66,78,96,108,120,132,144,156,174,186,198,210,222,234,252,264,276,288,300,312,330,342,354,366,378,390,408],
    "labelExpr":"datum.value % 78 == 0 ? ['29Nov','30Nov','3Dec','4Dec','5Dec','6Dec'][datum.value / 78] : ['11','12','1','2','3'][(datum.value % 78 - 18) / 12]",
    "labelFontWeight":{"condition":{"test":"datum.value % 78 == 0","value":"bold"},"value":"normal"},
    "labelFontSize":10.5,"labelColor":"#000000","labelPadding":2,"labelBaseline":"top","tickSize":3,"tickColor":"#888888","domain":false,"grid":false,"title":null,"labelFlush":false,"labelOverlap":false}},
  "y":{"field":"l","type":"quantitative","scale":{"domain":[140.066,145.885],"nice":false,"zero":false},
   "axis":{"orient":"right","offset":-55,"values":[140.4,140.6,140.8,141,141.2,141.4,141.6,141.8,142,142.2,142.4,142.6,142.8],"format":".1f","labelAlign":"right","labelBaseline":"middle","labelPadding":27,"tickSize":3,"tickColor":"#999999","labelFontSize":10.5,"labelColor":"#222222","domain":false,"grid":false,"title":null,"labelOverlap":false,"labelFlush":false}},
  "y2":{"field":"h"},
  "color":{"condition":{"test":"datum.c >= datum.o","value":"#000000"},"value":"#c0185a"}}},
{"data":{"name":"bars"},"mark":{"type":"tick","orient":"horizontal","size":1.6,"thickness":1,"xOffset":-0.9},
 "encoding":{"x":{"field":"i","type":"quantitative","scale":{"domain":[-6.88,450.8],"nice":false,"zero":false},"axis":null},
  "y":{"field":"o","type":"quantitative","scale":{"domain":[140.066,145.885],"nice":false,"zero":false},"axis":null},
  "color":{"condition":{"test":"datum.c >= datum.o","value":"#000000"},"value":"#c0185a"}}},
{"data":{"name":"bars"},"mark":{"type":"tick","orient":"horizontal","size":1.6,"thickness":1,"xOffset":0.9},
 "encoding":{"x":{"field":"i","type":"quantitative","scale":{"domain":[-6.88,450.8],"nice":false,"zero":false},"axis":null},
  "y":{"field":"c","type":"quantitative","scale":{"domain":[140.066,145.885],"nice":false,"zero":false},"axis":null},
  "color":{"condition":{"test":"datum.c >= datum.o","value":"#000000"},"value":"#c0185a"}}},
{"data":{"values":[{"i":96.5,"p":141.72}]},"mark":{"type":"point","shape":"M-0.4,-1L0.4,-1L0.4,0L1,0L0,1L-1,0L-0.4,0Z","size":225,"filled":true,"color":"#f29a9a","opacity":1},
 "encoding":{"x":{"field":"i","type":"quantitative","scale":{"domain":[-6.88,450.8],"nice":false,"zero":false},"axis":null},
  "y":{"field":"p","type":"quantitative","scale":{"domain":[140.066,145.885],"nice":false,"zero":false},"axis":null}}},
{"data":{"values":[{"i":360,"p":142.072}]},"mark":{"type":"point","shape":"M-0.4,1L0.4,1L0.4,0L1,0L0,-1L-1,0L-0.4,0Z","size":256,"filled":true,"color":"#1e961e","opacity":1},
 "encoding":{"x":{"field":"i","type":"quantitative","scale":{"domain":[-6.88,450.8],"nice":false,"zero":false},"axis":null},
  "y":{"field":"p","type":"quantitative","scale":{"domain":[140.066,145.885],"nice":false,"zero":false},"axis":null}}},
{"data":{"values":[{"p":141.94,"label":"141.94"}]},"mark":{"type":"point","shape":"M-1,0L-0.8,-0.29L1,-0.29L1,0.29L-0.8,0.29Z","size":1444,"filled":true,"fill":"#ffffff","stroke":"#000000","strokeWidth":1,"opacity":1,"xOffset":17},
 "encoding":{"x":{"datum":421.3,"type":"quantitative","scale":{"domain":[-6.88,450.8],"nice":false,"zero":false},"axis":null},
  "y":{"field":"p","type":"quantitative","scale":{"domain":[140.066,145.885],"nice":false,"zero":false},"axis":null}}},
{"data":{"values":[{"p":141.94,"label":"141.94"}]},"mark":{"type":"text","align":"center","baseline":"middle","dx":18.5,"fontSize":11,"fontWeight":"bold","color":"#000000"},
 "encoding":{"x":{"datum":421.3,"type":"quantitative","scale":{"domain":[-6.88,450.8],"nice":false,"zero":false},"axis":null},
  "y":{"field":"p","type":"quantitative","scale":{"domain":[140.066,145.885],"nice":false,"zero":false},"axis":null},"text":{"field":"label"}}}
],
"resolve":{"axis":{"x":"independent","y":"independent"}}
}
],
"resolve":{"scale":{"y":"independent"},"axis":{"x":"independent","y":"independent"}}
}
